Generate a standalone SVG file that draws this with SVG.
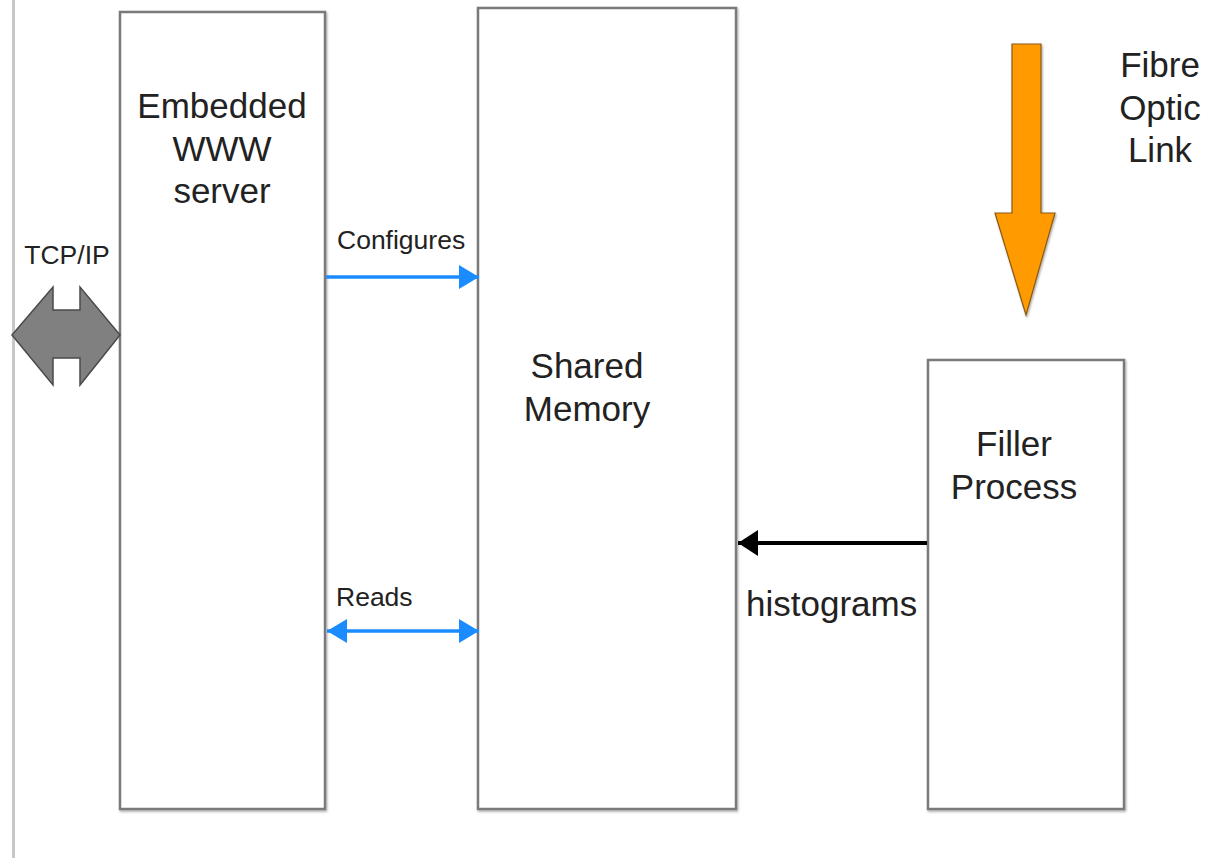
<svg xmlns="http://www.w3.org/2000/svg" width="1208" height="858" viewBox="0 0 1208 858">
  <style>
    .box { fill: #ffffff; stroke: #7a7a7a; stroke-width: 2.5; }
    .big { font-family: "Liberation Sans", Arial, sans-serif; font-size: 35px; fill: #222222; text-anchor: middle; }
    .small { font-family: "Liberation Sans", Arial, sans-serif; font-size: 26.5px; fill: #222222; }
    .blue { stroke: #1a8cff; stroke-width: 3.5; fill: none; }
    .black { stroke: #000000; stroke-width: 4; fill: none; }
  </style>
  <defs>
    <filter id="shadow" x="-5%" y="-5%" width="110%" height="110%">
      <feDropShadow dx="1" dy="1.5" stdDeviation="1.2" flood-color="#000" flood-opacity="0.35"/>
    </filter>
    <marker id="blueHead" viewBox="0 0 20 24" refX="20" refY="12" markerWidth="20" markerHeight="24" markerUnits="userSpaceOnUse" orient="auto-start-reverse">
      <path d="M0,0 L20,12 L0,24 Z" fill="#1a8cff"/>
    </marker>
    <marker id="blackHead" viewBox="0 0 20 26" refX="20" refY="13" markerWidth="20" markerHeight="26" markerUnits="userSpaceOnUse" orient="auto">
      <path d="M0,0 L20,13 L0,26 Z" fill="#000000"/>
    </marker>
  </defs>

  <rect width="1208" height="858" fill="#ffffff"/>
  <!-- left page rule -->
  <line x1="13.5" y1="0" x2="13.5" y2="858" stroke="#c8c8c8" stroke-width="3"/>

  <g id="www-server">
    <rect class="box" x="120" y="12" width="205" height="797" filter="url(#shadow)"/>
    <text class="big" x="222" y="118">Embedded</text>
    <text class="big" x="222" y="161">WWW</text>
    <text class="big" x="222" y="203">server</text>
  </g>

  <g id="shared-memory">
    <rect class="box" x="478" y="8" width="258" height="801" filter="url(#shadow)"/>
    <text class="big" x="587" y="378">Shared</text>
    <text class="big" x="587" y="421">Memory</text>
  </g>

  <g id="filler-process">
    <rect class="box" x="928" y="360" width="196" height="449" filter="url(#shadow)"/>
    <text class="big" x="1014" y="456">Filler</text>
    <text class="big" x="1014" y="499">Process</text>
  </g>

  <g id="tcp-ip">
    <polygon points="12,335 53,287 53,310 80,310 80,287 120,335 80,385 80,358 53,358 53,385" fill="#808080" stroke="#4a4a4a" stroke-width="1.5" stroke-linejoin="miter"/>
    <text class="small" x="67" y="264" text-anchor="middle">TCP/IP</text>
  </g>

  <g id="fibre-optic-link">
    <polygon points="1012,44 1041,44 1041,213 1055,213 1026,315 995,213 1012,213" fill="#ff9a00" stroke="#8a5a10" stroke-width="1.2" filter="url(#shadow)"/>
    <text class="big" x="1160" y="77">Fibre</text>
    <text class="big" x="1160" y="120">Optic</text>
    <text class="big" x="1160" y="162">Link</text>
  </g>

  <g id="connectors">
    <line class="blue" x1="326" y1="277" x2="479" y2="277" marker-end="url(#blueHead)"/>
    <line class="blue" x1="327" y1="631" x2="479" y2="631" marker-start="url(#blueHead)" marker-end="url(#blueHead)"/>
    <line class="black" x1="927" y1="543" x2="738" y2="543" marker-end="url(#blackHead)"/>
    <text class="small" x="337" y="249">Configures</text>
    <text class="small" x="336" y="606">Reads</text>
    <text class="big" x="746" y="616" style="text-anchor: start">histograms</text>
  </g>
</svg>
